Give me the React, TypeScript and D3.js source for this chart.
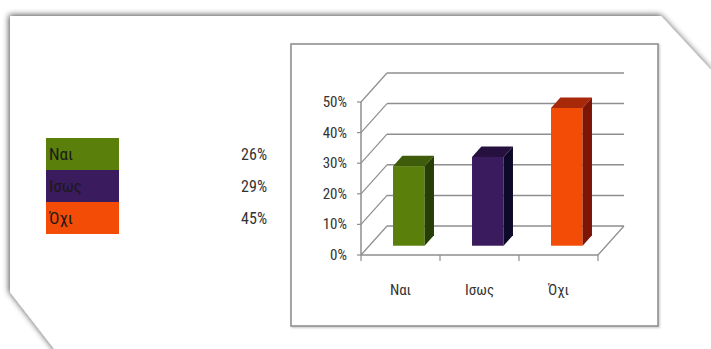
import React from "react";
import * as d3 from "d3";

const categories = ["Ναι", "Ισως", "Όχι"];
const values = [0.26, 0.29, 0.45];
const valueLabels = ["26%", "29%", "45%"];
const yTicks = [0, 0.1, 0.2, 0.3, 0.4, 0.5];

const frontColors = ["#5a7f0b", "#3a1b5e", "#f24c06"];
const topColors = ["#3f5c0a", "#25103f", "#a8280a"];
const sideColors = ["#263d06", "#0c0a28", "#7c1506"];

const W = 711;
const H = 349;
const FONT = "'Liberation Sans Narrow', 'Roboto Condensed', 'DejaVu Sans Condensed', Roboto, sans-serif";

export default function App() {
  // plot geometry (pseudo-3D column chart)
  const x = d3.scaleBand<string>().domain(categories).range([361, 598]).paddingInner(0).paddingOuter(0);
  const y = d3.scaleLinear().domain([0, 0.5]).range([255, 102]);
  const depthX = 26;
  const depthY = -29;
  const f1 = 0.32;
  const f2 = 0.68;
  const barW = x.bandwidth() * 0.4;
  const x0 = x.range()[0];
  const x1 = x.range()[1];
  const fmt = d3.format(".0%");
  const grid = "#8e8e8e";

  const outline = `M10,16 L661,16 L711,70 L711,${H + 10} L62,${H + 10} L10,292 Z`;

  const legendY = d3.scaleBand<string>().domain(categories).range([138, 234]);

  return (
    <svg width={W} height={H} style={{ position: "absolute", left: 0, top: 0, display: "block" }}>
      <defs>
        <filter id="sheetShadow" x="-5%" y="-10%" width="110%" height="120%">
          <feGaussianBlur in="SourceAlpha" stdDeviation="3" />
          <feOffset dx="-1.5" dy="-1" result="b" />
          <feComponentTransfer>
            <feFuncA type="linear" slope="0.7" />
          </feComponentTransfer>
          <feMerge>
            <feMergeNode />
            <feMergeNode in="SourceGraphic" />
          </feMerge>
        </filter>
        <filter id="frameShadow" x="-5%" y="-5%" width="110%" height="110%">
          <feDropShadow dx="1" dy="1" stdDeviation="0.8" floodColor="#000" floodOpacity="0.25" />
        </filter>
      </defs>
      <rect width={W} height={H} fill="#ffffff" />
      <path d={outline} fill="#ffffff" filter="url(#sheetShadow)" />

      {/* legend table */}
      {categories.map((c, i) => (
        <g key={c}>
          <rect x={46} y={legendY(c)!} width={73} height={legendY.bandwidth()} fill={frontColors[i]} />
          <text x={49} y={legendY(c)! + legendY.bandwidth() / 2 + 6} fontFamily={FONT} fontSize={17} fill="#1a1a1a">
            {c}
          </text>
          <text x={267} y={legendY(c)! + legendY.bandwidth() / 2 + 6} textAnchor="end" fontFamily={FONT} fontSize={16} fill="#333">
            {valueLabels[i]}
          </text>
        </g>
      ))}

      {/* chart frame */}
      <rect x={291} y={44} width={367} height={282} fill="#ffffff" stroke="#8a8a8a" strokeWidth={1.5} filter="url(#frameShadow)" />

      {/* back wall gridlines */}
      {yTicks.map((t) => (
        <line key={"g" + t} x1={x0 + depthX} x2={x1 + depthX} y1={y(t) + depthY} y2={y(t) + depthY} stroke={grid} strokeWidth={1.5} />
      ))}
      {/* side wall diagonals */}
      {yTicks.map((t) => (
        <line key={"s" + t} x1={x0} x2={x0 + depthX} y1={y(t)} y2={y(t) + depthY} stroke={grid} strokeWidth={1.2} />
      ))}
      {/* floor */}
      <line x1={x1} x2={x1 + depthX} y1={y(0)} y2={y(0) + depthY} stroke={grid} strokeWidth={1.2} />
      <line x1={x0} x2={x1} y1={y(0)} y2={y(0)} stroke={grid} strokeWidth={1.5} />
      {/* value axis */}
      <line x1={x0} x2={x0} y1={y(0)} y2={y(0.5)} stroke={grid} strokeWidth={1.5} />
      {yTicks.map((t) => (
        <g key={"t" + t}>
          <line x1={x0 - 4} x2={x0} y1={y(t)} y2={y(t)} stroke={grid} strokeWidth={1.2} />
          <text x={347} y={y(t) + 5} textAnchor="end" fontFamily={FONT} fontSize={15} fill="#333">
            {fmt(t)}
          </text>
        </g>
      ))}
      {/* category ticks */}
      {[x0, ...categories.map((c) => x(c)! + x.bandwidth())].map((px, i) => (
        <line key={"c" + i} x1={px} x2={px} y1={y(0)} y2={y(0) + 6} stroke={grid} strokeWidth={1.2} />
      ))}

      {/* bars */}
      {categories.map((c, i) => {
        const bx = x(c)! + x.bandwidth() / 2 - barW / 2 + f1 * depthX;
        const by0 = y(0) + f1 * depthY;
        const by1 = y(values[i]) + f1 * depthY;
        const ddx = (f2 - f1) * depthX;
        const ddy = (f2 - f1) * depthY;
        return (
          <g key={"b" + c}>
            <rect x={bx} y={by1} width={barW} height={by0 - by1} fill={frontColors[i]} />
            <path
              d={`M${bx},${by1} L${bx + ddx},${by1 + ddy} L${bx + barW + ddx},${by1 + ddy} L${bx + barW},${by1} Z`}
              fill={topColors[i]}
            />
            <path
              d={`M${bx + barW},${by1} L${bx + barW + ddx},${by1 + ddy} L${bx + barW + ddx},${by0 + ddy} L${bx + barW},${by0} Z`}
              fill={sideColors[i]}
            />
          </g>
        );
      })}

      {/* category labels */}
      {categories.map((c) => (
        <text key={"l" + c} x={x(c)! + x.bandwidth() / 2} y={295} textAnchor="middle" fontFamily={FONT} fontSize={15} fill="#333">
          {c}
        </text>
      ))}
    </svg>
  );
}
